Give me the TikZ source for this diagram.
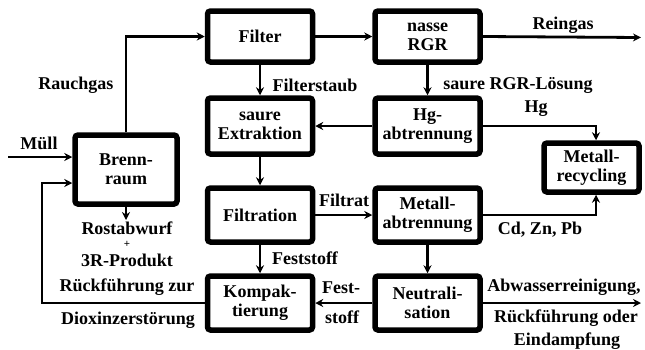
\documentclass[tikz,border=0pt]{standalone}
\usepackage{fontspec}
\setmainfont{Liberation Serif}
\usetikzlibrary{arrows.meta}
\begin{document}
\begin{tikzpicture}[x=1pt,y=-1pt,
 box/.style={draw,line width=5.5pt,rounded corners=3pt,minimum width=105pt,minimum height=54pt,align=center,inner sep=0pt,font=\fontsize{18}{19}\selectfont\bfseries},
 conn/.style={line width=2.8pt},
 arr/.style={conn,-{Stealth[length=8pt,width=8pt]}},
 lbl/.style={font=\fontsize{18}{22}\selectfont\bfseries,inner sep=0pt,align=center}]
\useasboundingbox (0,0) rectangle (645,349);
% boxes
\node[box,minimum height=51pt] (filter) at (260,36.5) {Filter};
\node[box,minimum height=51pt] (rgr) at (427.5,36.5) {nasse\\RGR};
\node[box,minimum height=56pt] (extr) at (260,126) {saure\\Extraktion};
\node[box,minimum height=56pt] (hg) at (427.5,126) {Hg-\\abtrennung};
\node[box] (filtr) at (260,215) {Filtration};
\node[box] (metab) at (427.5,215) {Metall-\\abtrennung};
\node[box] (kompakt) at (260,303) {Kompak-\\tierung};
\node[box] (neutr) at (427.5,303) {Neutrali-\\sation};
\node[box,minimum width=102pt,minimum height=69pt] (brenn) at (126,169.5) {Brenn-\\raum};
\node[box,minimum width=95pt,minimum height=49pt] (recyc) at (591.5,167.5) {Metall-\\recycling};
% coordinates
\coordinate (muell) at (8,157);
\coordinate (rein) at (641,37.5);
\coordinate (abw) at (641,303);
\coordinate (rx) at (596,0);
\coordinate (rost) at (126,220);
\coordinate (retx) at (42,303);
\coordinate (rety) at (42,183);
% connectors
\draw[arr] (muell) -- (muell -| brenn.west);
\draw[arr] (brenn.north) |- (filter.west);
\draw[arr] (filter) -- (rgr);
\draw[arr] (rgr.east) -- (rein);
\draw[arr] (filter) -- (extr);
\draw[arr] (rgr) -- (hg);
\draw[arr] (hg) -- (extr);
\draw[arr] (hg.east) -| (recyc.north -| rx);
\draw[arr] (extr) -- (filtr);
\draw[arr] (filtr) -- (metab);
\draw[arr] (metab.east) -| (recyc.south -| rx);
\draw[arr] (filtr) -- (kompakt);
\draw[arr] (metab) -- (neutr);
\draw[arr] (neutr) -- (kompakt);
\draw[arr] (neutr.east) -- (abw);
\draw[arr] (brenn.south) -- (rost);
\draw[arr] (kompakt.west) -- (retx) -- (rety) -- (rety -| brenn.west);
% labels
\node[lbl] (lmuell) at (39,143) {Müll};
\node[lbl] (lrauch) at (76,85) {Rauchgas};
\node[lbl] (lfstaub) at (315,85) {Filterstaub};
\node[lbl] (lrgrl) at (518,85) {saure RGR-Lösung};
\node[lbl] (lrein) at (563,25) {Reingas};
\node[lbl] (lhg) at (536,109) {Hg};
\node[lbl] (lfiltrat) at (344,200) {Filtrat};
\node[lbl] (lcd) at (540,230) {Cd, Zn, Pb};
\node[lbl] (lfest) at (305,258) {Feststoff};
\node[lbl] (lfest1) at (341,288) {Fest-};
\node[lbl] (lfest2) at (342,317) {stoff};
\node[lbl] (labw) at (564,287) {Abwasserreinigung,};
\node[lbl] (lrueck) at (566,318) {Rückführung oder};
\node[lbl] (lein) at (567,341) {Eindampfung};
\node[lbl] (lrost) at (127,228) {Rostabwurf};
\node[lbl,font=\fontsize{11}{11}\selectfont\bfseries] (lplus) at (127,244.5) {+};
\node[lbl] (l3r) at (127,260) {3R-Produkt};
\node[lbl] (lrzur) at (127,287) {Rückführung zur};
\node[lbl] (ldiox) at (128,320) {Dioxinzerstörung};
\end{tikzpicture}
\end{document}
